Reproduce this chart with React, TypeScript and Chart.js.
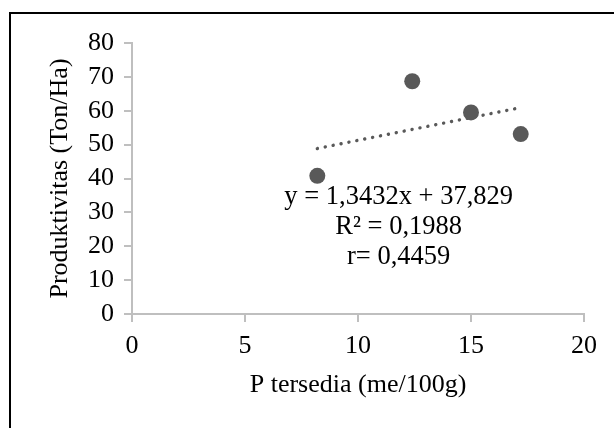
import React, { useEffect, useRef } from "react";
import { Chart, registerables } from "chart.js";

Chart.register(...registerables);

// ---- data ----
const pTersedia = [8.2, 12.4, 15.0, 17.2];
const produktivitas = [40.8, 68.7, 59.5, 53.1];
const trendSlope = 1.3432;
const trendIntercept = 37.829;
const trendX = [8.2, 17.2];
const xTicks = [0, 5, 10, 15, 20];
const yTicks = [0, 10, 20, 30, 40, 50, 60, 70, 80];
const equationLines = ["y = 1,3432x + 37,829", "R\u00B2 = 0,1988", "r= 0,4459"];
const labelAnchor = { x: 11.8, y: 34.6 };

const FONT = '"Liberation Serif", "Times New Roman", serif';

export default function App() {
  const ref = useRef<HTMLCanvasElement | null>(null);

  useEffect(() => {
    if (!ref.current) return;
    const annot = {
      id: "annot",
      afterDatasetsDraw(chart: any) {
        const { ctx, scales } = chart;
        const cx = scales.x.getPixelForValue(labelAnchor.x);
        const cy = scales.y.getPixelForValue(labelAnchor.y);
        ctx.save();
        ctx.fillStyle = "#000";
        ctx.font = `26.5px ${FONT}`;
        ctx.textAlign = "center";
        ctx.textBaseline = "middle";
        equationLines.forEach((t, i) => ctx.fillText(t, cx, cy + i * 30));
        ctx.restore();
      },
    };
    const chart = new Chart(ref.current, {
      type: "scatter",
      data: {
        datasets: [
          {
            type: "scatter",
            data: pTersedia.map((x, i) => ({ x, y: produktivitas[i] })),
            backgroundColor: "#595959",
            borderWidth: 0,
            pointRadius: 8,
            order: 1,
          } as any,
          {
            type: "line",
            data: trendX.map((x) => ({ x, y: trendSlope * x + trendIntercept })),
            borderColor: "#595959",
            borderWidth: 3.4,
            borderDash: [0.1, 7.95],
            borderCapStyle: "round",
            pointRadius: 0,
            fill: false,
            order: 2,
          } as any,
        ],
      },
      options: {
        responsive: false,
        animation: false,
        layout: { padding: { left: 0, right: 30, top: 43, bottom: 0 } },
        plugins: { legend: { display: false }, tooltip: { enabled: false } },
        scales: {
          x: {
            type: "linear",
            min: 0,
            max: 20,
            afterBuildTicks: (s: any) => {
              s.ticks = xTicks.map((v) => ({ value: v }));
            },
            afterFit: (s: any) => {
              s.height = 114;
            },
            ticks: { font: { family: FONT, size: 26 }, color: "#000", padding: 9, autoSkip: false, maxRotation: 0 },
            grid: { drawOnChartArea: false, drawTicks: true, tickLength: 8, color: "#bfbfbf", lineWidth: 2 },
            border: { color: "#bfbfbf", width: 2 },
            title: {
              display: true,
              text: "P tersedia (me/100g)",
              font: { family: FONT, size: 26 },
              color: "#000",
              padding: { top: 0, bottom: 27 },
            },
          },
          y: {
            type: "linear",
            min: 0,
            max: 80,
            afterBuildTicks: (s: any) => {
              s.ticks = yTicks.map((v) => ({ value: v }));
            },
            afterFit: (s: any) => {
              s.width = 132;
            },
            ticks: { font: { family: FONT, size: 26 }, color: "#000", padding: 10, autoSkip: false },
            grid: { drawOnChartArea: false, drawTicks: true, tickLength: 8, color: "#bfbfbf", lineWidth: 2 },
            border: { color: "#bfbfbf", width: 2 },
            title: {
              display: true,
              text: "Produktivitas (Ton/Ha)",
              font: { family: FONT, size: 26 },
              color: "#000",
              padding: { top: 45, bottom: 0 },
            },
          },
        },
      },
      plugins: [annot],
    });
    return () => chart.destroy();
  }, []);

  return (
    <div style={{ position: "absolute", left: 0, top: 0, width: 614, height: 428, background: "#fff", overflow: "hidden" }}>
      <canvas ref={ref} width={614} height={428} style={{ position: "absolute", left: 0, top: 0 }} />
      <div
        style={{
          position: "absolute",
          left: 9,
          top: 12,
          width: 605,
          height: 416,
          borderLeft: "2px solid #000",
          borderTop: "2px solid #000",
          boxSizing: "border-box",
          pointerEvents: "none",
        }}
      />
    </div>
  );
}
